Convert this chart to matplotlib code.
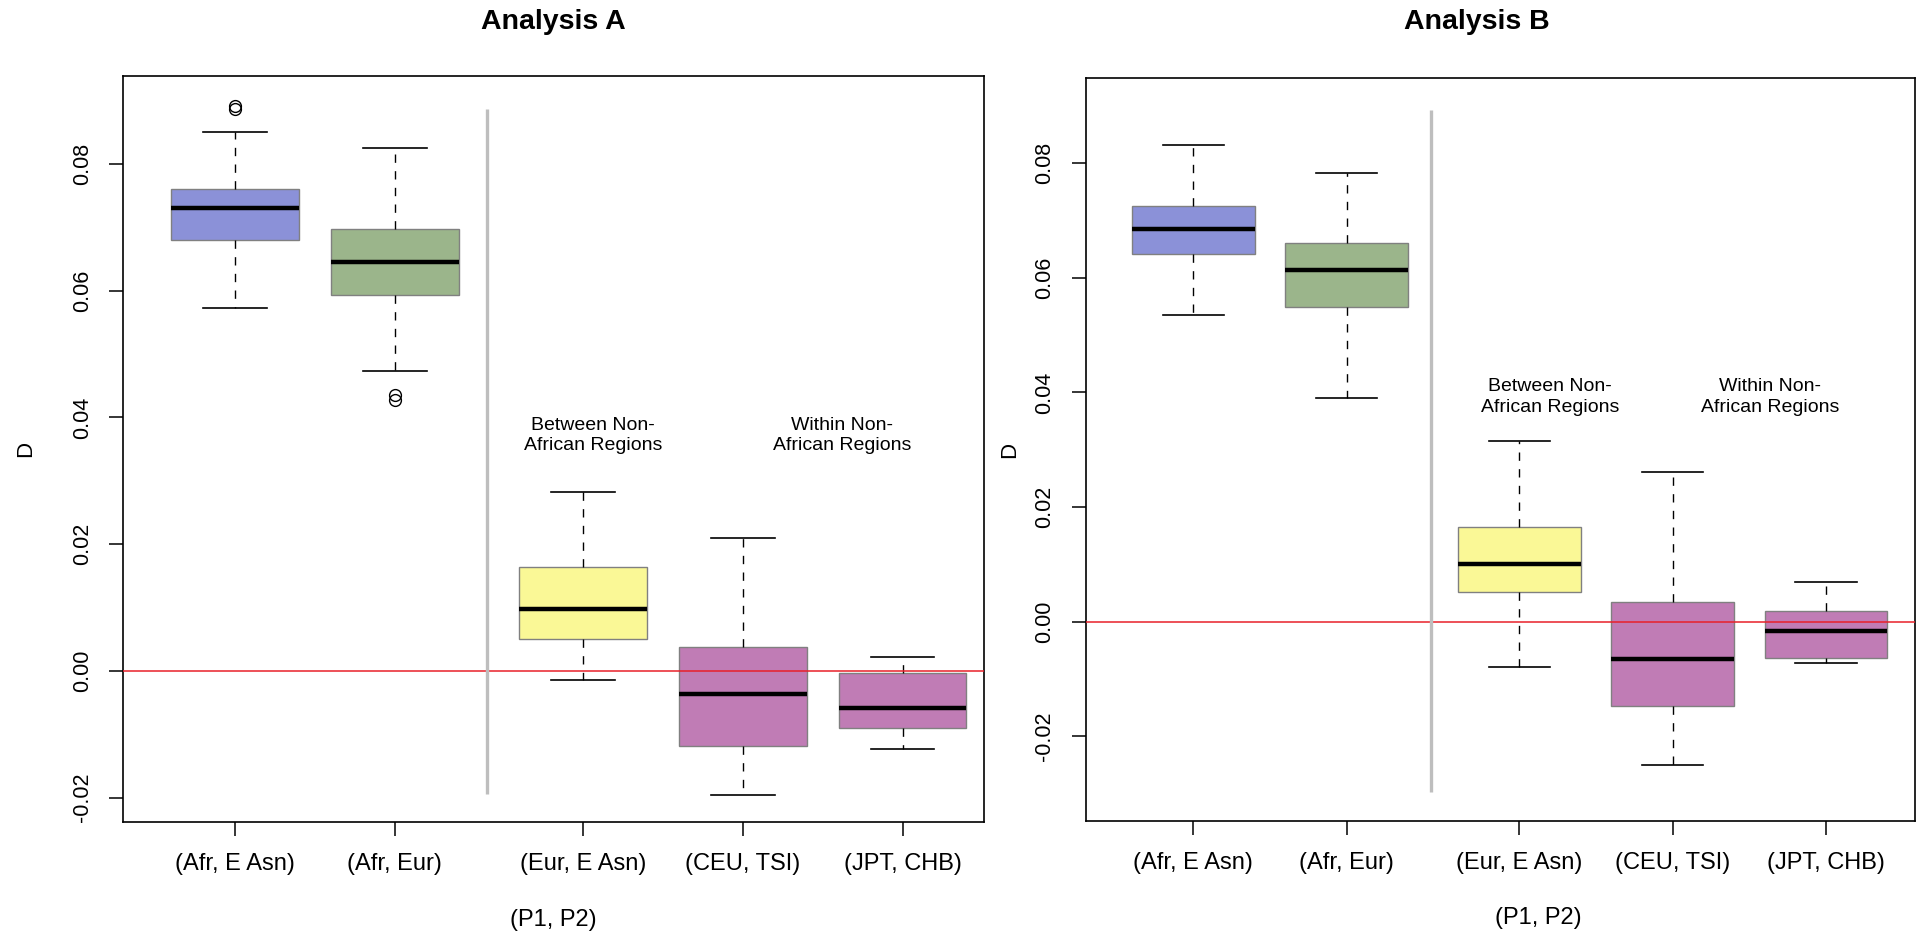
import matplotlib
matplotlib.use("Agg")
import matplotlib.pyplot as plt

plt.rcParams['font.family'] = ['Liberation Sans', 'DejaVu Sans']

# pair labels and box colours (same for both analyses)
labels = ["(Afr, E Asn)", "(Afr, Eur)", "(Eur, E Asn)", "(CEU, TSI)", "(JPT, CHB)"]
colors = ["#8B91D8", "#9BB58B", "#FAF896", "#C07CB5", "#C07CB5"]

# Analysis A box statistics
A_whislo = [0.0573, 0.0473, -0.0015, -0.0196, -0.0123]
A_q1 = [0.0680, 0.0593, 0.0050, -0.0118, -0.0090]
A_med = [0.0730, 0.0645, 0.0097, -0.0037, -0.0058]
A_q3 = [0.0761, 0.0698, 0.0164, 0.0038, -0.0004]
A_whishi = [0.0851, 0.0825, 0.0283, 0.0209, 0.0022]
A_fliers = [[0.0887, 0.0891], [0.0428, 0.0436], [], [], []]

# Analysis B box statistics
B_whislo = [0.0535, 0.0391, -0.0080, -0.0251, -0.0072]
B_q1 = [0.0641, 0.0550, 0.0052, -0.0147, -0.0063]
B_med = [0.0686, 0.0613, 0.0101, -0.0065, -0.0017]
B_q3 = [0.0726, 0.0660, 0.0165, 0.0034, 0.0019]
B_whishi = [0.0832, 0.0783, 0.0315, 0.0262, 0.0069]
B_fliers = [[], [], [], [], []]

W, H = 1925, 938
fig = plt.figure(figsize=(W / 100, H / 100), dpi=100)


def px_axes(l, t, r, b):
    return fig.add_axes([l / W, 1 - b / H, (r - l) / W, (b - t) / H])


def panel(ax, whislo, q1, med, q3, whishi, fliers, pos, xlim, ylim, sep_x, sep_y,
          note_x, note_y, xlab_x, ylab_x):
    stats = []
    for i in range(len(labels)):
        stats.append(dict(whislo=whislo[i], q1=q1[i], med=med[i], q3=q3[i],
                          whishi=whishi[i], fliers=fliers[i]))
    bp = ax.bxp(stats, positions=pos, widths=0.8, capwidths=0.4, patch_artist=True,
                boxprops=dict(edgecolor="#808080", linewidth=1.0),
                medianprops=dict(color="black", linewidth=3.2, solid_capstyle="butt"),
                whiskerprops=dict(color="black", linewidth=1.0, linestyle=(0, (6, 6))),
                capprops=dict(color="black", linewidth=1.2),
                flierprops=dict(marker="o", markerfacecolor="none", markeredgecolor="black",
                                markersize=8.5, markeredgewidth=1.0))
    for patch, c in zip(bp['boxes'], colors):
        patch.set_facecolor(c)
    ax.axhline(0, color="#E8202A", linewidth=1.1, zorder=3)
    ax.vlines(sep_x, sep_y[0], sep_y[1], color="#BEBEBE", linewidth=2.4, zorder=4)
    ax.text(note_x[0], note_y, "Between Non-\nAfrican Regions", ha="center", va="center",
            fontsize=14, linespacing=1.25)
    ax.text(note_x[1], note_y, "Within Non-\nAfrican Regions", ha="center", va="center",
            fontsize=14, linespacing=1.25)
    ax.set_xlim(xlim)
    ax.set_ylim(ylim)
    ax.set_xticks(pos)
    ax.set_xticklabels(labels, fontsize=17)
    ax.set_yticks([-0.02, 0.0, 0.02, 0.04, 0.06, 0.08])
    ax.set_yticklabels(["-0.02", "0.00", "0.02", "0.04", "0.06", "0.08"], fontsize=15.5,
                       rotation=90, va="center")
    ax.tick_params(axis="both", length=10, width=1.1, direction="out")
    ax.tick_params(axis="y", pad=12)
    ax.tick_params(axis="x", pad=12)
    for s in ax.spines.values():
        s.set_linewidth(1.2)
    ax.text(ylab_x, 0.5, "D", transform=ax.transAxes, rotation=90, ha="center",
            va="center", fontsize=16)
    ax.text(xlab_x, -0.131, "(P1, P2)", transform=ax.transAxes, ha="center", va="center",
            fontsize=17)


axA = px_axes(123.3, 76, 984, 822.3)
panel(axA, A_whislo, A_q1, A_med, A_q3, A_whishi, A_fliers,
      pos=[1, 2, 3.18, 4.18, 5.18], xlim=(0.301, 5.69), ylim=(-0.0239, 0.0939),
      sep_x=2.576, sep_y=(-0.0194, 0.0887), note_x=(3.24, 4.80), note_y=0.0371,
      xlab_x=0.5, ylab_x=-0.113)

axB = px_axes(1086, 78.5, 1915, 821)
panel(axB, B_whislo, B_q1, B_med, B_q3, B_whishi, B_fliers,
      pos=[1, 2, 3.125, 4.125, 5.125], xlim=(0.3005, 5.705), ylim=(-0.0348, 0.0948),
      sep_x=2.551, sep_y=(-0.0298, 0.0893), note_x=(3.325, 4.76), note_y=0.0392,
      xlab_x=0.546, ylab_x=-0.092)

fig.text(553.3 / W, 1 - 21.7 / H, "Analysis A", ha="center", va="center",
         fontsize=20.5, fontweight="bold")
fig.text(1477 / W, 1 - 21.7 / H, "Analysis B", ha="center", va="center",
         fontsize=20.5, fontweight="bold")

fig.savefig("out.png", dpi=100)
